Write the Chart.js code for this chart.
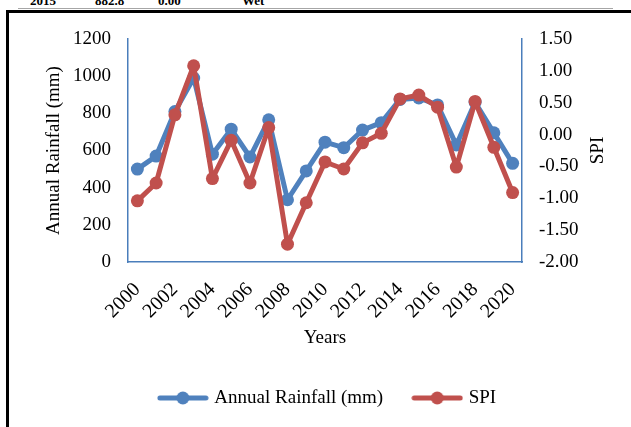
<!DOCTYPE html>
<html>
<head>
<meta charset="utf-8">
<script src="https://cdn.jsdelivr.net/npm/chart.js@4.4.0/dist/chart.umd.min.js"></script>
<style>
  html, body { margin: 0; padding: 0; background: #fff; }
  body { width: 631px; height: 427px; position: relative; overflow: hidden; font-family: "Liberation Serif", "Times New Roman", serif; }
  #header { position: absolute; left: 18px; top: -6px; width: 595px; height: 14px; border-bottom: 1px solid #a6a6a6; font-size: 13px; font-weight: bold; line-height: 13px; }
  #header span { position: absolute; top: 0; }
  #frame { position: absolute; left: 6px; top: 10px; width: 700px; height: 500px; border-left: 3px solid #000; border-top: 3px solid #000; }
  #wrap { position: absolute; left: 0; top: 0; width: 631px; height: 427px; }
</style>
</head>
<body>
<div id="header"><span style="left:12px">2015</span><span style="left:77px">882.8</span><span style="left:140px">0.00</span><span style="left:224px">Wet</span></div>
<div id="frame"></div>
<div id="wrap"><canvas id="comboChart"></canvas></div>
<script>
// Chart data
const years = ['2000', '2001', '2002', '2003', '2004', '2005', '2006', '2007', '2008', '2009', '2010',
               '2011', '2012', '2013', '2014', '2015', '2016', '2017', '2018', '2019', '2020'];
const rainfall = [500, 570, 810, 990, 580, 715, 565, 765, 335, 490, 645, 615, 710, 750, 875, 883, 845, 630, 860, 695, 531];
const spi = [-1.04, -0.76, 0.31, 1.08, -0.69, -0.09, -0.76, 0.11, -1.72, -1.07, -0.43, -0.54, -0.13, 0.02, 0.56, 0.62, 0.43, -0.51, 0.52, -0.20, -0.91];

const blue = '#4F81BD';
const red = '#C0504D';
const axisBlue = '#4A7EBB';
const serif = '"Liberation Serif", "Times New Roman", serif';
const font = { family: serif, size: 19 };

// legend marker: line with a dot, like Excel
function legendMarker(color) {
    const c = document.createElement('canvas');
    c.width = 52; c.height = 14;
    const g = c.getContext('2d');
    g.strokeStyle = color; g.lineWidth = 5; g.lineCap = 'round';
    g.beginPath(); g.moveTo(3, 7); g.lineTo(49, 7); g.stroke();
    g.fillStyle = color;
    g.beginPath(); g.arc(26, 7, 6.5, 0, Math.PI * 2); g.fill();
    return c;
}

// SPI title reads bottom to top on the right axis
const spiTitle = {
    id: 'spiTitle',
    afterDraw(chart) {
        const { ctx, chartArea } = chart;
        const s = chart.scales.y1;
        ctx.save();
        ctx.translate(s.right - 33, (chartArea.top + chartArea.bottom) / 2);
        ctx.rotate(-Math.PI / 2);
        ctx.font = '19px ' + serif;
        ctx.fillStyle = '#000';
        ctx.textAlign = 'center';
        ctx.textBaseline = 'middle';
        ctx.fillText('SPI', 0, 0);
        ctx.restore();
    }
};

const ctx = document.getElementById('comboChart');
new Chart(ctx, {
    type: 'line',
    data: {
        labels: years,
        datasets: [{
            label: 'Annual Rainfall (mm)',
            data: rainfall,
            yAxisID: 'y',
            borderColor: blue,
            backgroundColor: blue,
            borderWidth: 5,
            pointRadius: 6.5,
            pointBorderWidth: 0,
            borderJoinStyle: 'round',
            borderCapStyle: 'round',
            order: 1
        }, {
            label: 'SPI',
            data: spi,
            yAxisID: 'y1',
            borderColor: red,
            backgroundColor: red,
            borderWidth: 5,
            pointRadius: 6.5,
            pointBorderWidth: 0,
            borderJoinStyle: 'round',
            borderCapStyle: 'round',
            order: 0
        }]
    },
    options: {
        responsive: true,
        maintainAspectRatio: false,
        animation: false,
        layout: { padding: { top: 39, left: 26, right: 0, bottom: 9.5 } },
        plugins: {
            tooltip: { enabled: false },
            legend: {
                display: true,
                position: 'bottom',
                labels: {
                    usePointStyle: true,
                    pointStyleWidth: 44,
                    padding: 32,
                    color: '#000',
                    font: font,
                    generateLabels(chart) {
                        return chart.data.datasets.map((ds, i) => ({
                            text: ds.label,
                            fillStyle: ds.borderColor,
                            strokeStyle: ds.borderColor,
                            lineWidth: 0,
                            pointStyle: legendMarker(ds.borderColor),
                            fontColor: '#000',
                            hidden: false,
                            datasetIndex: i
                        }));
                    }
                }
            }
        },
        scales: {
            x: {
                offset: true,
                grid: { drawOnChartArea: false, drawTicks: false },
                border: { color: axisBlue, width: 1.5 },
                ticks: {
                    autoSkip: false,
                    maxRotation: 45,
                    minRotation: 45,
                    padding: 16,
                    color: '#000',
                    font: { family: serif, size: 20 },
                    callback(v, i) { return i % 2 === 0 ? this.getLabelForValue(v) : ''; }
                },
                title: { display: true, text: 'Years', color: '#000', font: font, padding: { top: 0, bottom: 7 } },
                afterFit(s) { s.height = 94.5; }
            },
            y: {
                position: 'left',
                min: 0,
                max: 1200,
                grid: { drawOnChartArea: false, drawTicks: false },
                border: { color: axisBlue, width: 1.5 },
                ticks: { stepSize: 200, padding: 17, color: '#000', font: font, callback: v => String(v) },
                title: { display: true, text: 'Annual Rainfall (mm)', color: '#000', font: font, padding: { top: 16.6, bottom: 0 } },
                afterFit(s) { s.width = 102; }
            },
            y1: {
                position: 'right',
                min: -2,
                max: 1.5,
                grid: { drawOnChartArea: false, drawTicks: false },
                border: { color: axisBlue, width: 1.5 },
                ticks: { stepSize: 0.5, padding: 17, color: '#000', font: font, callback: v => Number(v).toFixed(2) },
                afterFit(s) { s.width = 109; }
            }
        }
    },
    plugins: [spiTitle]
});
</script>
</body>
</html>
